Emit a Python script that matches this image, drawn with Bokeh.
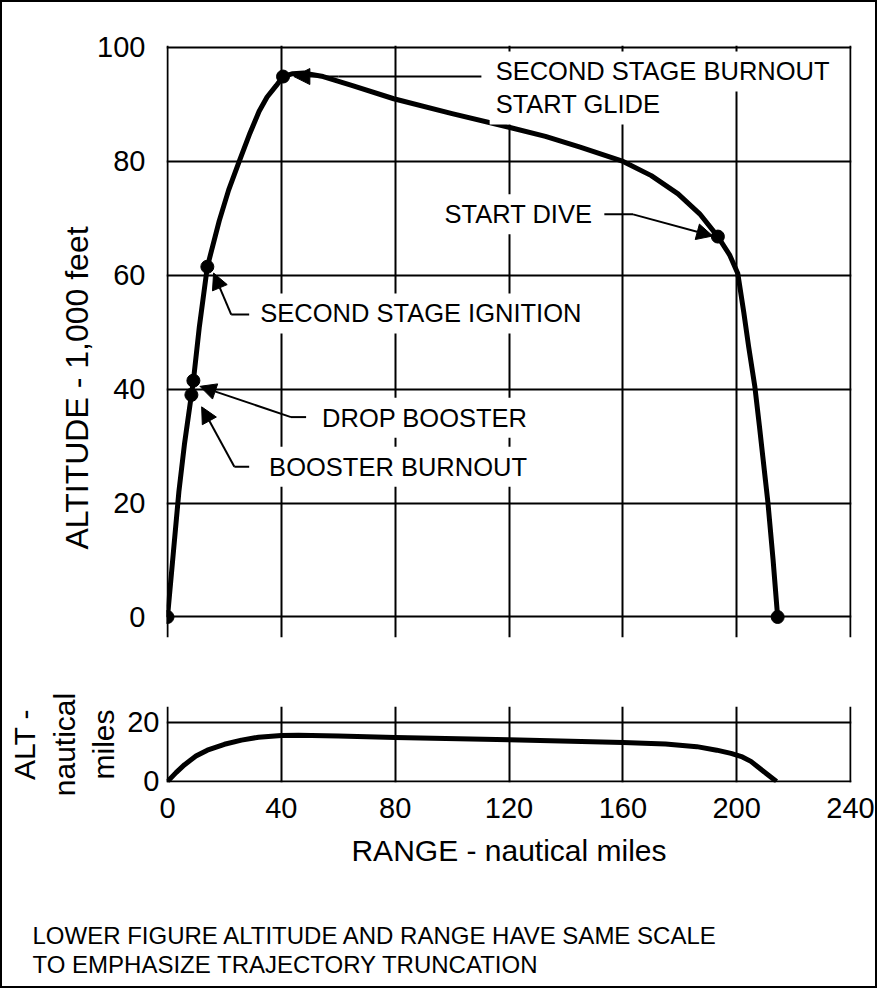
from bokeh.plotting import figure
from bokeh.layouts import column
from bokeh.models import Range1d, FixedTicker, LinearAxis, Label, Arrow, NormalHead, Title
from bokeh.embed import file_html
from bokeh.resources import INLINE

# ---------------- data ----------------
# upper trajectory: range (nautical miles) vs altitude (1,000 ft)
range_nm = [0, 2, 4, 6, 8.4, 9.1, 11.2, 14.0, 18.2, 21.5, 25.2, 29.0, 32.2, 35.0,
            38.2, 40.6, 44, 48, 54.7, 65, 79.5, 100, 120, 132.8, 145, 160.1, 170,
            179.4, 187, 193.4, 197.5, 200.4, 202.5, 204.2, 206.4, 208.0, 209.2,
            211.0, 212.8, 214.4]
alt_kft = [0, 11, 22, 30.5, 39.0, 41.5, 51, 61.5, 69.6, 75, 80, 85, 88.8, 91.3,
           93.3, 94.9, 95.4, 95.5, 94.9, 93.3, 91.0, 88.4, 86.0, 84.4, 82.5, 80.0,
           77.5, 74.3, 70.8, 66.8, 63.6, 60.3, 53.5, 47.5, 40.4, 33.5, 28.1, 20.0,
           10.0, 0]

# marked events on the upper trajectory
event_names = ["LAUNCH", "BOOSTER BURNOUT", "DROP BOOSTER", "SECOND STAGE IGNITION",
               "SECOND STAGE BURNOUT", "START DIVE", "IMPACT"]
event_range = [0, 8.4, 9.1, 14.0, 40.6, 193.4, 214.4]
event_alt = [0, 39.0, 41.5, 61.5, 94.9, 66.8, 0]

# lower trajectory: same scale, altitude in nautical miles
range_nm_low = [0, 3, 6, 10, 14, 20, 26, 32, 40, 46, 60, 80, 120, 160, 175, 186,
                193, 198, 202, 205, 207.5, 210.5, 214]
alt_nmi_low = [0, 3.0, 5.7, 8.6, 10.6, 12.6, 14.0, 15.0, 15.6, 15.7, 15.4, 14.9,
               14.1, 13.2, 12.7, 11.8, 10.6, 9.5, 8.3, 6.8, 4.9, 2.6, 0]

x_ticks = [0, 40, 80, 120, 160, 200, 240]
y_ticks_top = [0, 20, 40, 60, 80, 100]
y_ticks_low = [0, 20]

# annotation layout (label anchor, leader elbow, arrow tip) in data units
ann_labels = [
    ("SECOND STAGE BURNOUT", 113.2, 95.8, "left"),
    ("START GLIDE", 113.2, 90.0, "left"),
    ("START DIVE", 151.4, 70.7, "right"),
    ("SECOND STAGE IGNITION", 30.5, 53.3, "left"),
    ("DROP BOOSTER", 52.2, 35.0, "left"),
    ("BOOSTER BURNOUT", 33.6, 26.4, "left"),
]
ann_leaders = [  # (start x, start y, elbow x, elbow y, tip x, tip y)
    (110.3, 94.9, 60.0, 94.9, 44.4, 94.9),
    (153.5, 70.7, 163.6, 70.7, 191.6, 66.9),
    (28.7, 53.1, 22.4, 53.1, 16.2, 60.4),
    (48.7, 35.1, 43.4, 35.1, 11.4, 40.5),
    (28.7, 26.4, 23.5, 26.4, 12.0, 36.9),
]

notes = ["LOWER FIGURE ALTITUDE AND RANGE HAVE SAME SCALE",
         "TO EMPHASIZE TRAJECTORY TRUNCATION"]

FONT = "Liberation Sans"
BLACK = "black"
W = 873
MB_LEFT = 164
MB_RIGHT = 24

# ---------------- upper figure ----------------
p1 = figure(width=W, height=670, x_range=Range1d(-0.35, 240.35),
            y_range=Range1d(-3.6, 100.35), output_backend="svg",
            toolbar_location=None, x_axis_location=None, y_axis_location=None,
            min_border_left=MB_LEFT, min_border_right=MB_RIGHT, min_border_top=43,
            min_border_bottom=35)
p1.outline_line_color = None
p1.xgrid.ticker = FixedTicker(ticks=x_ticks)
p1.ygrid.ticker = FixedTicker(ticks=y_ticks_top)
for g in (p1.xgrid, p1.ygrid):
    g.grid_line_color = BLACK
    g.grid_line_width = 2
    g.grid_line_alpha = 1

yax = LinearAxis(ticker=FixedTicker(ticks=y_ticks_top))
yax.axis_line_color = None
yax.major_tick_in = 0
yax.major_tick_out = 0
yax.minor_tick_line_color = None
yax.major_label_standoff = 21
yax.major_label_text_font = FONT
yax.major_label_text_font_size = "29px"
yax.major_label_text_color = BLACK
p1.add_layout(yax, "left")

# vertical axis title, placed a little below the frame centre as in the original
ytitle = Title(text="ALTITUDE - 1,000 feet", align="left", offset=88, standoff=0,
               text_font=FONT, text_font_size="32px", text_font_style="normal",
               text_color=BLACK)
p1.add_layout(ytitle, "left")

p1.line(range_nm, alt_kft, line_width=5, line_color=BLACK, line_join="round")
p1.scatter(event_range, event_alt, size=13, fill_color=BLACK, line_color=BLACK)

for (sx, sy, ex, ey, tx, ty) in ann_leaders:
    p1.add_layout(Arrow(x_start=sx, y_start=sy, x_end=ex, y_end=ey, end=None,
                        line_width=2, line_color=BLACK))
    p1.add_layout(Arrow(x_start=ex, y_start=ey, x_end=tx, y_end=ty, line_width=2,
                        line_color=BLACK,
                        end=NormalHead(size=16, fill_color=BLACK, line_color=BLACK)))

for (txt, lx, ly, align) in ann_labels:
    p1.add_layout(Label(x=lx, y=ly, text=txt, text_align=align,
                        text_baseline="middle", text_font=FONT,
                        text_font_size="25.5px", text_color=BLACK,
                        background_fill_color="white", padding=6))

# ---------------- lower figure ----------------
p2 = figure(width=W, height=314, x_range=Range1d(-0.35, 240.35),
            y_range=Range1d(-0.35, 25.4), output_backend="svg",
            toolbar_location=None, x_axis_location=None, y_axis_location=None,
            min_border_left=MB_LEFT, min_border_right=MB_RIGHT, min_border_top=34,
            min_border_bottom=204)
p2.outline_line_color = None
p2.xgrid.ticker = FixedTicker(ticks=x_ticks)
p2.ygrid.ticker = FixedTicker(ticks=y_ticks_low)
for g in (p2.xgrid, p2.ygrid):
    g.grid_line_color = BLACK
    g.grid_line_width = 2
    g.grid_line_alpha = 1

xax = LinearAxis(ticker=FixedTicker(ticks=x_ticks), axis_label="RANGE - nautical miles")
yax2 = LinearAxis(ticker=FixedTicker(ticks=y_ticks_low), axis_label="ALT -\nnautical\nmiles")
for ax in (xax, yax2):
    ax.axis_line_color = None
    ax.major_tick_in = 0
    ax.major_tick_out = 0
    ax.minor_tick_line_color = None
    ax.major_label_text_font = FONT
    ax.major_label_text_font_size = "29px"
    ax.major_label_text_color = BLACK
    ax.axis_label_text_font = FONT
    ax.axis_label_text_font_size = "30px"
    ax.axis_label_text_font_style = "normal"
    ax.axis_label_text_color = BLACK
xax.major_label_standoff = 15
xax.axis_label_standoff = 13
yax2.major_label_standoff = 7
yax2.axis_label_standoff = 4
p2.add_layout(xax, "below")
p2.add_layout(yax2, "left")

p2.line(range_nm_low, alt_nmi_low, line_width=5, line_color=BLACK, line_join="round")

spacer = Title(text=" ", standoff=21, text_font=FONT, text_font_size="24px")
p2.add_layout(spacer, "below")
note = Title(text="\n".join(notes), align="left", offset=-134, standoff=0,
             text_font=FONT, text_font_size="24px", text_font_style="normal",
             text_color=BLACK, text_line_height=1.1)
p2.add_layout(note, "below")

layout = column(p1, p2, styles={"border": "2px solid black"})

open("out.html", "w").write(file_html(layout, INLINE))
